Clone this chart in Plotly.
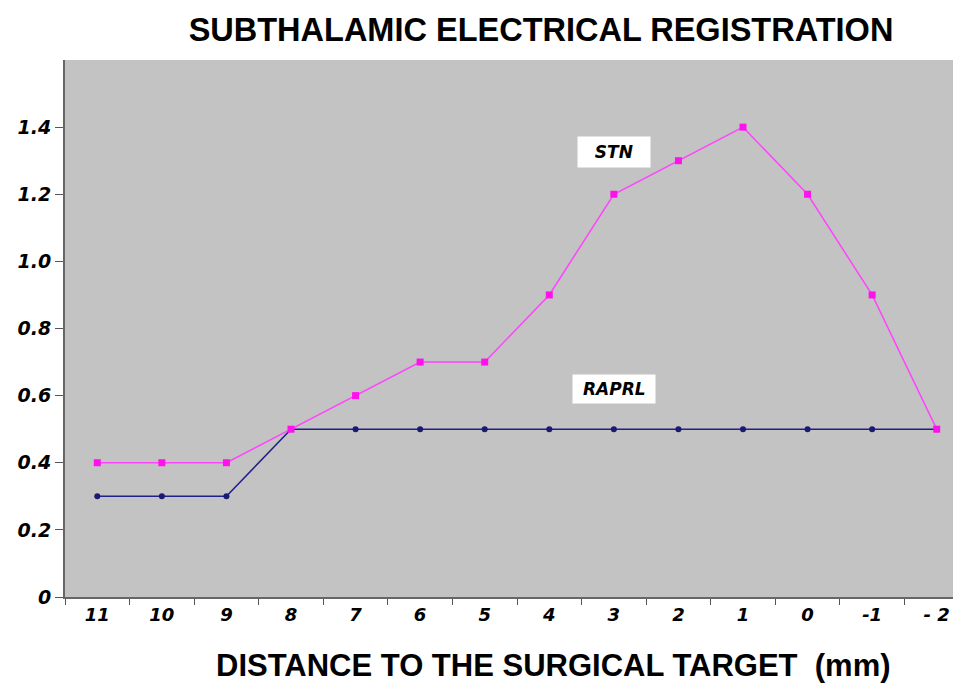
import plotly.graph_objects as go

distance = ["11", "10", "9", "8", "7", "6", "5", "4", "3", "2", "1", "0", "-1", "- 2"]
stn = [0.4, 0.4, 0.4, 0.5, 0.6, 0.7, 0.7, 0.9, 1.2, 1.3, 1.4, 1.2, 0.9, 0.5]
raprl = [0.3, 0.3, 0.3, 0.5, 0.5, 0.5, 0.5, 0.5, 0.5, 0.5, 0.5, 0.5, 0.5, 0.5]
y_ticks = [0, 0.2, 0.4, 0.6, 0.8, 1.0, 1.2, 1.4]
y_tick_text = ["0", "0.2", "0.4", "0.6", "0.8", "1.0", "1.2", "1.4"]

fig = go.Figure()
fig.add_trace(go.Scatter(x=distance, y=raprl, mode="lines+markers", name="RAPRL",
                         line=dict(color="#20208a", width=1.5),
                         marker=dict(color="#1a1a70", size=6, symbol="circle")))
fig.add_trace(go.Scatter(x=distance, y=stn, mode="lines+markers", name="STN",
                         line=dict(color="#ff44ff", width=1.5),
                         marker=dict(color="#ff11ee", size=7, symbol="square")))

label_font = dict(family="DejaVu Sans", size=17, color="black", weight="bold", style="italic")
idx3 = distance.index("3")
fig.add_annotation(x=idx3, y=1.325, text="  STN  ", showarrow=False, bgcolor="white",
                   font=label_font, borderpad=5)
fig.add_annotation(x=idx3, y=0.62, text=" RAPRL ", showarrow=False, bgcolor="white",
                   font=label_font, borderpad=4)
fig.add_annotation(text="DISTANCE TO THE SURGICAL TARGET  (mm)", xref="paper", yref="paper",
                   x=(545 - 57) / 904, y=-0.128, xanchor="center", yanchor="middle",
                   showarrow=False,
                   font=dict(family="Liberation Sans", size=31, color="black", weight="bold"))

fig.update_layout(
    width=961, height=694,
    margin=dict(l=57, r=0, t=52, b=105),
    paper_bgcolor="white", plot_bgcolor="#c3c3c3",
    showlegend=False,
    title=dict(text="SUBTHALAMIC ELECTRICAL REGISTRATION", x=533 / 961, xref="container",
               xanchor="center", yref="container", y=1 - 22 / 694, yanchor="middle",
               font=dict(family="Liberation Sans", size=32.5, color="black", weight="bold")),
    xaxis=dict(type="category", categoryorder="array", categoryarray=distance,
               range=[-0.5, 13.5], showgrid=False, tickson="boundaries",
               ticks="outside", ticklen=6, tickcolor="#555", showline=True,
               linecolor="#666", linewidth=2, mirror=False, automargin=False,
               tickfont=dict(family="DejaVu Sans", size=18, color="black",
                             weight="bold", style="italic")),
    yaxis=dict(range=[0, 1.6], tickvals=y_ticks, ticktext=y_tick_text, showgrid=False,
               ticks="outside", ticklen=8, tickcolor="#555", showline=True,
               linecolor="#666", linewidth=2, zeroline=False, automargin=False,
               tickfont=dict(family="DejaVu Sans", size=19, color="black",
                             weight="bold", style="italic")),
)
fig.write_html("out.html")
